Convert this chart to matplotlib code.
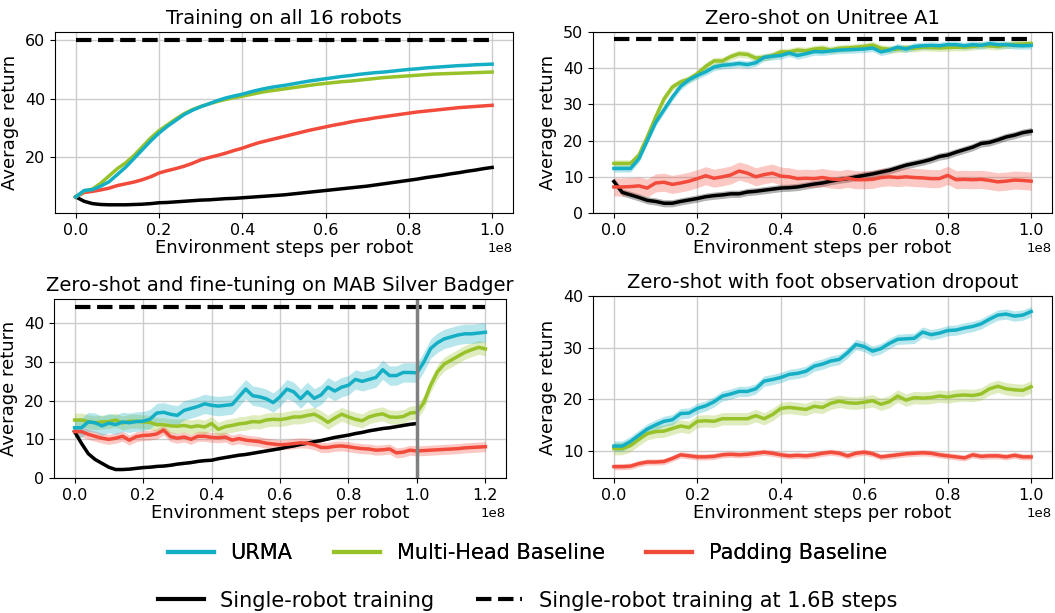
import numpy as np
import matplotlib
matplotlib.use('Agg')
import matplotlib.pyplot as plt
from matplotlib.lines import Line2D

# colours
C_URMA = '#14afc5'
C_HEAD = '#97c22a'
C_PAD = '#f24b3b'
C_SINGLE = 'black'

# ---- Training on all 16 robots (x: 0 .. 1e8, step 0.02e8)
tl_urma = [6.3, 8.5, 8.8, 10, 11.5, 14, 16.5, 19.5, 22.5, 25.5,
           28.2, 30.5, 32.5, 34.5, 36, 37.2, 38.2, 39.3, 40.2, 40.9,
           41.5, 42.3, 43, 43.6, 44.1, 44.5, 45, 45.5, 46, 46.4,
           46.8, 47.2, 47.6, 47.9, 48.3, 48.6, 48.9, 49.1, 49.4, 49.7,
           50, 50.2, 50.5, 50.7, 50.9, 51.1, 51.3, 51.4, 51.6, 51.7, 51.8]
tl_head = [6.3, 8.3, 9, 11, 13.5, 16, 18, 20.5, 23.5, 26.5,
           29, 31, 33, 34.8, 36.2, 37.3, 38.2, 39, 39.7, 40.3,
           40.8, 41.4, 42, 42.5, 42.9, 43.3, 43.7, 44.1, 44.5, 44.9,
           45.2, 45.5, 45.8, 46, 46.3, 46.6, 46.9, 47.2, 47.4, 47.6,
           47.8, 48, 48.2, 48.4, 48.5, 48.6, 48.7, 48.8, 48.9, 49, 49.1]
tl_pad = [6.3, 7.8, 8.2, 8.7, 9.3, 10.2, 10.8, 11.4, 12.2, 13.2,
          14.5, 15.3, 16, 16.8, 17.8, 19, 19.8, 20.5, 21.3, 22.2,
          23, 24, 24.9, 25.6, 26.3, 27, 27.7, 28.4, 29.1, 29.7,
          30.3, 30.9, 31.4, 32, 32.5, 32.9, 33.4, 33.8, 34.2, 34.6,
          35, 35.4, 35.7, 36, 36.3, 36.6, 36.9, 37.1, 37.3, 37.5, 37.7]
tl_single = [6.3, 4.8, 4.0, 3.7, 3.6, 3.6, 3.6, 3.7, 3.8, 4.0,
             4.3, 4.4, 4.6, 4.8, 5.0, 5.2, 5.3, 5.5, 5.7, 5.8,
             6.0, 6.2, 6.4, 6.6, 6.8, 7.0, 7.3, 7.6, 7.9, 8.2,
             8.5, 8.8, 9.1, 9.4, 9.7, 10.0, 10.4, 10.8, 11.2, 11.6,
             12.0, 12.4, 12.9, 13.3, 13.7, 14.2, 14.6, 15.1, 15.5, 16.0, 16.4]
tl_best = 60.0

# ---- Zero-shot on Unitree A1
tr_urma = [12.3, 12.3, 12.3, 15, 20, 25, 28.5, 32, 35, 36.8,
           38, 39, 40.3, 40.8, 41, 41.3, 41, 41.5, 43, 43.3,
           43.5, 44.2, 43.5, 44, 44.6, 44.5, 44.8, 45, 45.1, 45.2,
           45.3, 45.6, 44.5, 45, 45.8, 45.3, 46, 46.2, 46.3, 46.2,
           46.5, 46.5, 46.2, 46.5, 46.3, 46.8, 46.5, 46.5, 46.3, 46.2, 46.3]
tr_head = [13.7, 13.7, 13.7, 16, 21, 26.5, 31.5, 34.8, 36.2, 37,
           38.5, 40.5, 42, 42, 43.2, 44, 43.8, 42.8, 43, 43.5,
           44.5, 44.5, 45, 44.8, 45.3, 45.5, 45, 45.5, 45.6, 45.8,
           46, 46.4, 45.5, 45.2, 45.3, 45.6, 45.5, 45.8, 45.7, 45.6,
           45.7, 45.8, 45.8, 46, 46.3, 46.2, 46, 46.4, 46.6, 46.7, 46.8]
tr_pad = [7.2, 7.2, 7.3, 7.5, 6.9, 8.3, 8.5, 7.9, 8.3, 8.8,
          9.5, 10.3, 9.6, 10, 10.5, 11.6, 11, 10, 10.6, 11,
          10.2, 10, 9.5, 9.6, 9.5, 9.8, 9.4, 9.2, 9.6, 9.2,
          9.2, 9.3, 9.8, 10, 9.8, 10, 9.8, 9.7, 9.5, 9.5,
          10.4, 9.2, 9.3, 9.2, 9.3, 9, 8.6, 8.8, 9.1, 9, 8.8]
tr_single = [8.7, 5.7, 5, 4.3, 3.5, 3.2, 2.7, 2.7, 3.2, 3.6,
             4, 4.5, 4.8, 5, 5.3, 5.3, 5.8, 6, 6.3, 6.6,
             6.9, 7, 7.2, 7.6, 8, 8.3, 8.8, 9.2, 9.5, 10,
             10.4, 10.8, 11.3, 11.8, 12.5, 13.2, 13.7, 14.2, 14.8, 15.6,
             16, 16.8, 17.5, 18.2, 19.2, 19.5, 20.2, 21, 21.5, 22.2, 22.6]
tr_best = 48.1

# ---- Zero-shot and fine-tuning on MAB Silver Badger (x: 0 .. 1.2e8)
bl_urma = [13, 13, 14.5, 14.3, 13.5, 14.2, 13.8, 14.5, 14.3, 14.6,
           14.7, 15.2, 16.8, 17, 16.5, 16.2, 17.5, 18, 18.5, 19.2,
           18.8, 18.6, 18.8, 19, 21, 23, 21.3, 21, 20.5, 19.5,
           21, 23, 22.3, 20.5, 22.3, 20.6, 21.5, 23.5, 22.5, 23.5,
           24, 25.5, 25, 25.5, 26, 28, 26.5, 26.5, 27.3, 27.3,
           27.2, 30, 33.5, 35, 36, 36.5, 37, 37.3, 37.3, 37.5, 37.7]
bl_head = [15, 15, 14.6, 14.3, 14.5, 14.6, 15, 14.2, 14.7, 14.7,
           14.5, 14.4, 13.8, 13.8, 13.5, 13.4, 13.6, 13.2, 13.5, 13.2,
           14.1, 12.6, 13.3, 13.6, 14, 14.2, 14.6, 14.5, 15, 15.2,
           15.1, 15.4, 15.8, 15.8, 16.2, 16.5, 15.6, 14.4, 15.5, 16.5,
           15.8, 15.2, 14.8, 15.8, 16.3, 16.6, 15.8, 15.7, 15.9, 16.8,
           17, 19.5, 24, 27.5, 29.5, 30.5, 31.5, 32.5, 33.2, 33.8, 33.4]
bl_pad = [12, 12, 11.3, 10.8, 10.3, 10, 10.3, 10.8, 9.8, 10.7,
          11, 11.1, 11.4, 12.4, 10.7, 10.3, 10.6, 10, 10.8, 10.8,
          10.5, 10.4, 10.6, 9.8, 10.2, 9.8, 9.6, 9.4, 9, 8.8,
          8.6, 8.7, 8.9, 9.1, 9, 8.6, 7.9, 7.9, 8.2, 8.3,
          8.1, 7.8, 7.6, 7.5, 7.2, 7.3, 7.5, 6.5, 6.7, 7.2,
          7, 7.1, 7.2, 7.3, 7.4, 7.5, 7.6, 7.8, 7.9, 8, 8.1]
bl_single = [12, 9, 6.3, 4.8, 3.8, 2.8, 2.2, 2.2, 2.3, 2.5,
             2.7, 2.8, 3, 3.1, 3.3, 3.6, 3.8, 4, 4.3, 4.5,
             4.6, 5, 5.3, 5.6, 5.9, 6.1, 6.4, 6.7, 7, 7.3,
             7.6, 8, 8.3, 8.7, 9, 9.4, 9.7, 10.1, 10.5, 10.8,
             11.1, 11.5, 11.8, 12.2, 12.5, 12.8, 13, 13.3, 13.6, 13.9, 14.1]
bl_best = 44.2
bl_switch = 1.0e8

# ---- Zero-shot with foot observation dropout
br_urma = [10.9, 10.9, 11.8, 13, 14.2, 15, 15.7, 16, 17.2, 17.3,
           18.2, 18.7, 19.5, 20.6, 21, 21.5, 21.5, 22, 23.5, 23.8,
           24.2, 24.8, 25, 25.4, 26.4, 26.8, 27.4, 27.7, 29, 30.6,
           30.2, 29.3, 29.8, 30.8, 31.6, 31.7, 31.8, 33, 32.5, 32.8,
           33.3, 33.4, 33.8, 34.1, 34.6, 35.5, 36.3, 36.5, 36.1, 36.3, 37]
br_head = [10.4, 10.4, 11, 12.2, 13.3, 13.7, 13.8, 14.3, 14.8, 14.5,
           15.7, 15.8, 15.7, 16.2, 16.2, 16.2, 16.2, 16.8, 16.2, 17,
           18.2, 18.4, 18.2, 18, 18.6, 18.4, 19.2, 19.6, 19.3, 19.2,
           19.4, 19.7, 19, 19.5, 20.6, 19.8, 20.3, 20.2, 20.3, 20.6,
           20.4, 20.7, 20.8, 20.7, 21, 22, 22.5, 22, 21.8, 21.7, 22.4]
br_pad = [6.9, 6.9, 7, 7.5, 7.8, 7.8, 7.9, 8.5, 9.2, 9,
          8.8, 8.8, 8.9, 9.2, 9.3, 9.2, 9.3, 9.5, 9.7, 9.5,
          9.2, 9, 9.1, 9, 9.2, 9.5, 9.7, 9.5, 9, 9.5,
          9.7, 9.4, 8.8, 9, 9.2, 9.4, 9.5, 9.6, 9.5, 9.2,
          9, 8.8, 8.6, 9.2, 8.9, 9, 9, 8.8, 9.1, 8.8, 8.8]

# half-width of the shaded bands
spread = {
    'tr': {'urma': 1.0, 'head': 1.0, 'pad': 2.5, 'single': 1.0},
    'bl': {'urma': 2.5, 'head': 1.8, 'pad': 1.3, 'single': 0.3},
    'br': {'urma': 1.0, 'head': 1.2, 'pad': 0.6},
}

FS_TITLE = 14
FS_LABEL = 13
FS_TICK = 11.5


def steps(n, step=0.02e8):
    return np.arange(n) * step


def style_axes(ax, title):
    ax.set_title(title, fontsize=FS_TITLE)
    ax.set_xlabel('Environment steps per robot', fontsize=FS_LABEL, labelpad=1)
    ax.set_ylabel('Average return', fontsize=FS_LABEL)
    ax.tick_params(axis='both', labelsize=FS_TICK)
    ax.xaxis.offsetText.set_fontsize(9.5)
    ax.grid(True, color='#cccccc', linewidth=1)
    ax.set_axisbelow(True)


def curve(ax, y, color, s=None, lw=2.5):
    y = np.asarray(y, dtype=float)
    x = steps(len(y))
    if s:
        ax.fill_between(x, y - s, y + s, color=color, alpha=0.3, linewidth=0)
    ax.plot(x, y, color=color, linewidth=lw)
    return x


fig = plt.figure(figsize=(10.55, 6.13), dpi=100)

ax_tl = fig.add_axes([0.0521, 0.6525, 0.4341, 0.2953])
ax_tr = fig.add_axes([0.5621, 0.6525, 0.4351, 0.2953])
ax_bl = fig.add_axes([0.0512, 0.2202, 0.4284, 0.2920])
ax_br = fig.add_axes([0.5621, 0.2202, 0.4351, 0.2969])

# top left
x = curve(ax_tl, tl_single, C_SINGLE)
curve(ax_tl, tl_pad, C_PAD)
curve(ax_tl, tl_head, C_HEAD)
curve(ax_tl, tl_urma, C_URMA)
ax_tl.plot([x[0], x[-1]], [tl_best, tl_best], 'k--', linewidth=3)
style_axes(ax_tl, 'Training on all 16 robots')
ax_tl.set_yticks([20, 40, 60])

# top right
s = spread['tr']
x = curve(ax_tr, tr_single, C_SINGLE, s['single'])
curve(ax_tr, tr_pad, C_PAD, s['pad'])
curve(ax_tr, tr_head, C_HEAD, s['head'])
curve(ax_tr, tr_urma, C_URMA, s['urma'])
ax_tr.plot([x[0], x[-1]], [tr_best, tr_best], 'k--', linewidth=3)
style_axes(ax_tr, 'Zero-shot on Unitree A1')
ax_tr.set_ylim(0, 50)

# bottom left
s = spread['bl']
curve(ax_bl, bl_single, C_SINGLE, s['single'])
curve(ax_bl, bl_pad, C_PAD, s['pad'])
curve(ax_bl, bl_head, C_HEAD, s['head'])
x = curve(ax_bl, bl_urma, C_URMA, s['urma'])
ax_bl.plot([x[0], x[-1]], [bl_best, bl_best], 'k--', linewidth=3)
ax_bl.axvline(bl_switch, color='#808080', linewidth=2.5)
style_axes(ax_bl, 'Zero-shot and fine-tuning on MAB Silver Badger')
ax_bl.set_ylim(0, 46.3)

# bottom right
s = spread['br']
curve(ax_br, br_pad, C_PAD, s['pad'])
curve(ax_br, br_head, C_HEAD, s['head'])
curve(ax_br, br_urma, C_URMA, s['urma'])
style_axes(ax_br, 'Zero-shot with foot observation dropout')
ax_br.set_ylim(4.7, 40)

# legends
row1 = [Line2D([], [], color=C_URMA, lw=3),
        Line2D([], [], color=C_HEAD, lw=3),
        Line2D([], [], color=C_PAD, lw=3)]
row2 = [Line2D([], [], color=C_SINGLE, lw=3),
        Line2D([], [], color=C_SINGLE, lw=3, linestyle='--')]
leg1 = fig.legend(row1, ['URMA', 'Multi-Head Baseline', 'Padding Baseline'],
                  loc='center', bbox_to_anchor=(0.5, 0.098), ncol=3,
                  frameon=False, fontsize=15, handlelength=2.2)
fig.add_artist(leg1)
fig.legend(row2, ['Single-robot training', 'Single-robot training at 1.6B steps'],
           loc='center', bbox_to_anchor=(0.5, 0.02), ncol=2,
           frameon=False, fontsize=15, handlelength=2.2)

fig.savefig('out.png', dpi=100)
